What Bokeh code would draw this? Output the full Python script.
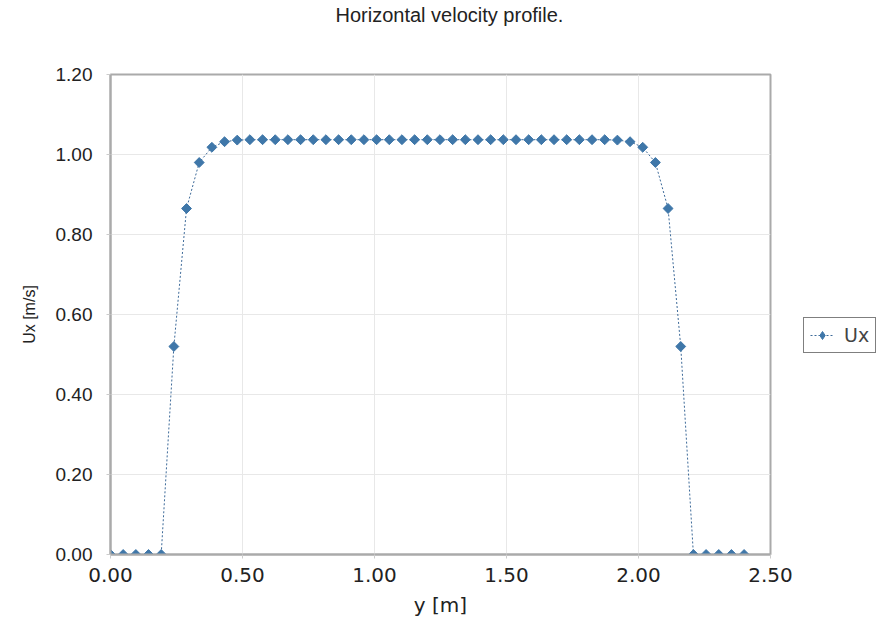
import math
from bokeh.plotting import figure
from bokeh.layouts import row
from bokeh.models import Legend, LegendItem, NumeralTickFormatter, FixedTicker
from bokeh.embed import file_html
from bokeh.resources import INLINE

y_pos = [0.000, 0.048, 0.096, 0.144, 0.192, 0.240, 0.288, 0.336, 0.384, 0.432,
         0.480, 0.528, 0.576, 0.624, 0.672, 0.720, 0.768, 0.816, 0.864, 0.912,
         0.960, 1.008, 1.056, 1.104, 1.152, 1.200, 1.248, 1.296, 1.344, 1.392,
         1.440, 1.488, 1.536, 1.584, 1.632, 1.680, 1.728, 1.776, 1.824, 1.872,
         1.920, 1.968, 2.016, 2.064, 2.112, 2.160, 2.208, 2.256, 2.304, 2.352,
         2.400]
ux = [0.0, 0.0, 0.0, 0.0, 0.0, 0.520, 0.865, 0.980, 1.018, 1.032,
      1.036, 1.037, 1.037, 1.037, 1.037, 1.037, 1.037, 1.037, 1.037, 1.037,
      1.037, 1.037, 1.037, 1.037, 1.037, 1.037, 1.037, 1.037, 1.037, 1.037,
      1.037, 1.037, 1.037, 1.037, 1.037, 1.037, 1.037, 1.037, 1.037, 1.037,
      1.036, 1.032, 1.018, 0.980, 0.865, 0.520, 0.0, 0.0, 0.0, 0.0,
      0.0]
x_ticks = [0.0, 0.5, 1.0, 1.5, 2.0, 2.5]
y_ticks = [0.0, 0.2, 0.4, 0.6, 0.8, 1.0, 1.2]

LINE_COLOR = "#3d6a99"
MARK_COLOR = "#3f77a9"
NAN = float("nan")

p = figure(width=800, height=626, output_backend="svg", toolbar_location=None,
           x_range=(0, 2.5), y_range=(0, 1.2),
           min_border_left=110, min_border_right=30, min_border_top=74, min_border_bottom=72,
           title="Horizontal velocity profile.\n \n ")
p.title.align = "left"
p.title.offset = 225
p.title.text_font = "Liberation Sans"
p.title.text_font_style = "normal"
p.title.text_font_size = "20px"
p.title.text_line_height = 1.1
p.title.text_color = "#222222"
p.title.standoff = 0

p.outline_line_color = "#aaaaaa"
p.outline_line_width = 2

p.line(y_pos, ux, line_color=LINE_COLOR, line_width=1, line_dash="2 2")
p.scatter(y_pos, ux, marker="square", angle=math.pi / 4, size=7,
          fill_color=MARK_COLOR, line_color=MARK_COLOR)

p.xaxis.ticker = FixedTicker(ticks=x_ticks)
p.yaxis.ticker = FixedTicker(ticks=y_ticks)
p.xaxis.formatter = NumeralTickFormatter(format="0.00")
p.yaxis.formatter = NumeralTickFormatter(format="0.00")
p.xaxis.axis_label = "y [m]"
p.yaxis.axis_label = "Ux [m/s]"
for ax in (p.xaxis, p.yaxis):
    ax.axis_line_color = "#aaaaaa"
    ax.axis_line_width = 2
    ax.major_tick_line_color = "#cccccc"
    ax.major_tick_in = 0
    ax.major_tick_out = 4
    ax.minor_tick_line_color = None
    ax.major_label_text_color = "#222222"
    ax.axis_label_text_font_style = "normal"
    ax.axis_label_text_color = "#222222"
p.xaxis.major_label_text_font = "DejaVu Sans"
p.xaxis.major_label_text_font_size = "20px"
p.xaxis.major_label_standoff = 9
p.xaxis.axis_label_text_font = "DejaVu Sans"
p.xaxis.axis_label_text_font_size = "20px"
p.xaxis.axis_label_standoff = 8
p.yaxis.major_label_text_font = "Liberation Sans"
p.yaxis.major_label_text_font_size = "19px"
p.yaxis.major_label_standoff = 14
p.yaxis.axis_label_text_font = "Liberation Sans"
p.yaxis.axis_label_text_font_size = "16px"
p.yaxis.axis_label_standoff = 15
p.xgrid.grid_line_color = "#e8e8e8"
p.ygrid.grid_line_color = "#e8e8e8"

# legend lives in a narrow companion figure to the right of the plot
lg = figure(width=90, height=626, output_backend="svg", toolbar_location=None,
            x_range=(0, 1), y_range=(0, 1), x_axis_type=None, y_axis_type=None,
            min_border_left=0, min_border_right=0, min_border_top=0, min_border_bottom=0)
lg.grid.visible = False
lg.outline_line_color = None
l_ln = lg.line([NAN], [NAN], line_color=LINE_COLOR, line_width=1, line_dash="2 2")
l_mk = lg.scatter([NAN], [NAN], marker="diamond", size=11,
                  fill_color=MARK_COLOR, line_color=MARK_COLOR)
legend = Legend(items=[LegendItem(label="Ux", renderers=[l_ln, l_mk])],
                location=(3, 201), margin=0)
legend.border_line_color = "black"
legend.border_line_width = 1.5
legend.label_text_font = "DejaVu Sans"
legend.label_text_font_size = "19px"
legend.padding = 6
legend.glyph_width = 24
legend.label_standoff = 10
lg.add_layout(legend, "center")

layout = row(p, lg)
open("out.html", "w").write(file_html(layout, INLINE))
